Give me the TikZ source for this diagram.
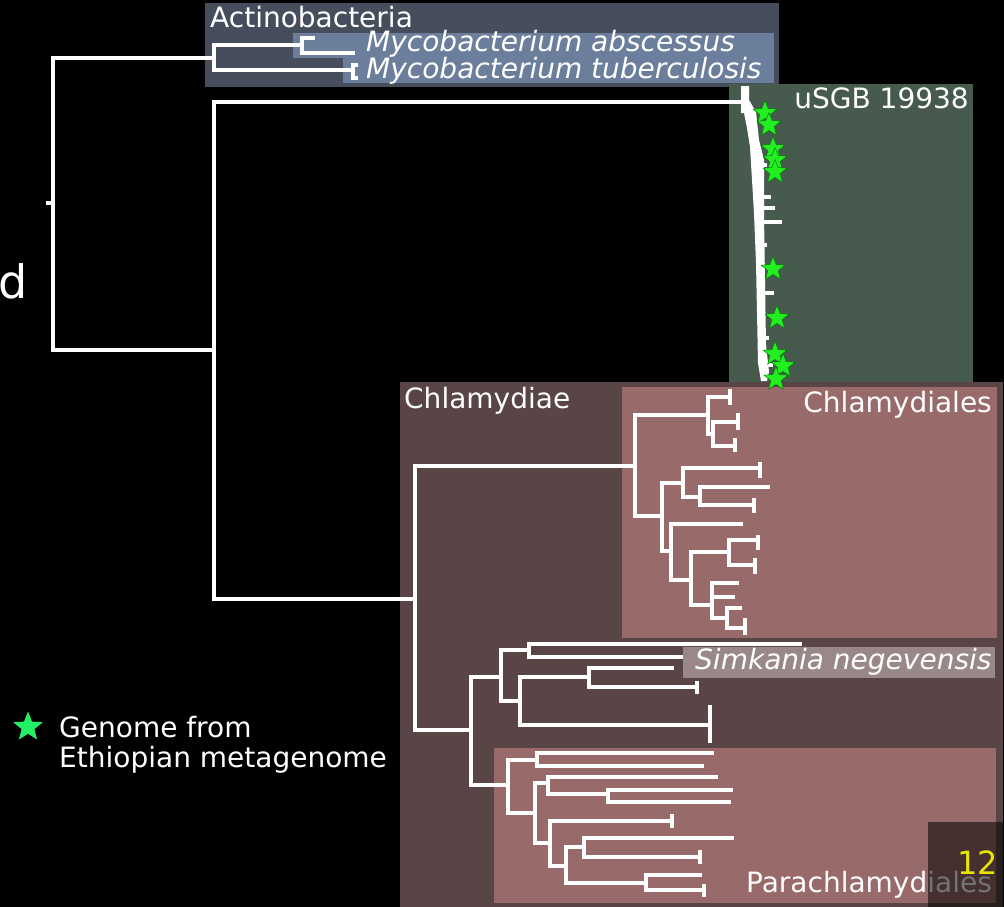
\documentclass[tikz,border=0pt]{standalone}
\usepackage{fontspec}
\setmainfont{DejaVu Sans}
\usetikzlibrary{shapes.geometric}

\definecolor{actbox}{RGB}{70,77,92}
\definecolor{mycbox}{RGB}{107,126,155}
\definecolor{sgbbox}{RGB}{70,90,77}
\definecolor{chlbox}{RGB}{90,69,70}
\definecolor{ordbox}{RGB}{153,106,106}
\definecolor{simbox}{RGB}{154,136,136}
\definecolor{ethgreen}{RGB}{34,238,102}
\definecolor{sgbgreen}{RGB}{34,238,34}
\definecolor{numyel}{RGB}{230,230,0}

\tikzset{
  br/.style={white, line width=4.6pt},
  lbl/.style={white, inner sep=0pt, font=\fontsize{28}{30}\selectfont},
  spc/.style={lbl, font=\fontsize{28}{30}\selectfont\itshape},
  gstar/.style={star, star points=5, star point ratio=2.3, fill=sgbgreen, draw=green!45!black, line width=0.4pt, minimum size=25pt, inner sep=0pt},
}

\begin{document}
\begin{tikzpicture}[x=1pt, y=-1pt]
	\useasboundingbox (0,0) rectangle (1004,907);
	\fill[black] (0,0) rectangle (1004,907);
	% clade boxes
	\fill[actbox] (205,3) rectangle (779,87);
	\fill[mycbox] (293,33) rectangle (774,58);
	\fill[mycbox] (343,58) rectangle (774,83);
	\fill[sgbbox] (729,84) rectangle (973,383);
	\fill[chlbox] (400,382) rectangle (1003,907);
	\fill[ordbox] (622,387) rectangle (997,638);
	\fill[simbox] (683,647) rectangle (995,678);
	\fill[ordbox] (494,748) rectangle (996,903);
	% backbone
	\draw[br] (214,58) -| (53,350) -- (214,350);
	\draw[br] (46,203) -- (53,203);
	\draw[br] (302,45) -| (214,70) -- (353,70);
	\draw[br] (315,38) -| (302,53) -- (355,53);
	\draw[br] (358,65) -| (353,78) -- (358,78);
	\draw[br] (745,102) -| (214,599) -- (415,599);
	% uSGB 19938, collapsed comb
	\fill[white] (741,86) -- (749,86) -- (749,100) -- (756,112) -- (759,140) -- (764,160) -- (764,215) -- (765,280) -- (766,345) -- (769,372) -- (767,381) -- (761,381) -- (758,363) -- (757,313) -- (756,263) -- (754,213) -- (752,180) -- (750,147) -- (747,128) -- (744,113) -- (741,113) -- cycle;
	\draw[white, line width=3.5pt] (758,165) -- (767,165) (760,197) -- (771,197) (760,208) -- (775,208) (760,222) -- (782,222) (760,245) -- (767,245) (761,293) -- (774,293) (762,338) -- (769,338) (762,365) -- (773,365);
	% Chlamydiae
	\draw[br] (635,466) -| (415,730) -- (471,730);
	\draw[br] (708,415) -| (635,516) -- (662,516);
	\draw[br] (730,397) -| (708,434) -- (713,434);
	\draw[br] (738,422) -| (713,446) -- (735,446);
	\draw[br] (683,483) -| (662,551) -- (671,551);
	\draw[br] (760,468) -| (683,497) -- (700,497);
	\draw[br] (770,487) -| (700,505) -- (754,505);
	\draw[br] (743,524) -| (671,580) -- (691,580);
	\draw[br] (729,552) -| (691,605) -- (712,605);
	\draw[br] (758,540) -| (729,565) -- (755,565);
	\draw[br] (739,583) -| (712,618) -- (727,618);
	\draw[br] (712,597) -- (735,597);
	\draw[br] (742,608) -| (727,628) -- (745,628);
	\draw[br] (730,389) -- (730,405) (738,413) -- (738,430) (735,438) -- (735,452) (760,462) -- (760,478) (754,498) -- (754,513) (758,535) -- (758,550) (755,558) -- (755,574) (745,618) -- (745,635);
	\draw[br] (501,677) -| (471,785) -- (508,785);
	\draw[br] (529,650) -| (501,701) -- (520,701);
	\draw[br] (802,644) -| (529,657) -- (683,657);
	\draw[br] (589,677) -| (520,725) -- (710,725);
	\draw[br] (674,668) -| (589,687) -- (697,687);
	\draw[br] (697,681) -- (697,694) (710,705) -- (710,743);
	\draw[br] (537,760) -| (508,813) -- (535,813);
	\draw[br] (714,753) -| (537,766) -- (704,766);
	\draw[br] (548,783) -| (535,843) -- (550,843);
	\draw[br] (718,777) -| (548,794) -- (608,794);
	\draw[br] (733,790) -| (608,802) -- (731,802);
	\draw[br] (672,821) -| (550,866) -- (566,866);
	\draw[br] (584,847) -| (566,883) -- (646,883);
	\draw[br] (734,838) -| (584,857) -- (700,857);
	\draw[br] (702,875) -| (646,890) -- (704,890);
	\draw[br] (672,814) -- (672,828) (700,850) -- (700,864) (704,884) -- (704,897);
	% Ethiopian genomes
	\node[gstar] (s1) at (765,113) {};
	\node[gstar] (s2) at (769,125) {};
	\node[gstar] (s3) at (773,149) {};
	\node[gstar] (s4) at (775,160) {};
	\node[gstar] (s5) at (775,172) {};
	\node[gstar] (s6) at (773,269) {};
	\node[gstar] (s7) at (777,318) {};
	\node[gstar] (s8) at (775,354) {};
	\node[gstar] (s9) at (783,366) {};
	\node[gstar] (s10) at (776,379) {};
	% labels
	\node[lbl, anchor=base west] (actino) at (210,28) {Actinobacteria};
	\node[spc, anchor=base west] (mabs) at (366,52) {Mycobacterium abscessus};
	\node[spc, anchor=base west] (mtb) at (366,78) {Mycobacterium tuberculosis};
	\node[lbl, anchor=base east] (usgb) at (969,108) {uSGB 19938};
	\node[lbl, anchor=base west] (chlam) at (404,408) {Chlamydiae};
	\node[lbl, anchor=base east] (chlord) at (992,412) {Chlamydiales};
	\node[spc, anchor=base west] (simk) at (695,669) {Simkania negevensis};
	\node[lbl, anchor=base east] (parach) at (992,892) {Parachlamydiales};
	\fill[black, opacity=0.55] (928,822) rectangle (1004,907);
	\node[lbl, anchor=base east, text=numyel, font=\fontsize{32}{32}\selectfont] (num) at (998,874) {12};
	\node[lbl, anchor=base east, font=\fontsize{46}{46}\selectfont] (panel) at (28,298) {d};
	% legend
	\node[star, star points=5, star point ratio=2.3, fill=ethgreen, minimum size=31pt, inner sep=0pt] (legstar) at (28,727) {};
	\node[lbl, anchor=base west] (leg1) at (59,737) {Genome from};
	\node[lbl, anchor=base west] (leg2) at (59,767) {Ethiopian metagenome};
\end{tikzpicture}
\end{document}
